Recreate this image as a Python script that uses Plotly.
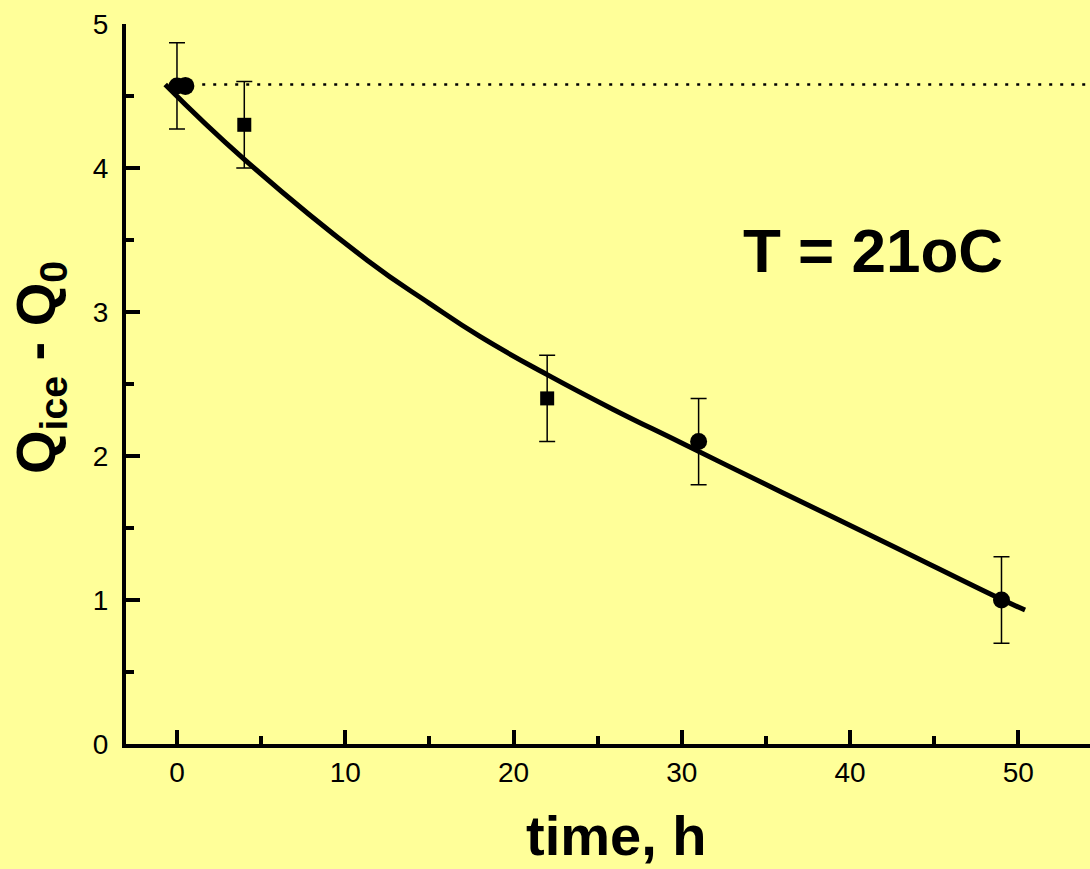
import plotly.graph_objects as go

# Measured data
circle_x = [0, 31, 49]
circle_y = [4.57, 2.1, 1.0]
circle_err = [0.3, 0.3, 0.3]
circle_extra_x = [0.5]
circle_extra_y = [4.57]
square_x = [4, 22]
square_y = [4.3, 2.4]
square_err = [0.3, 0.3]

# Fitted curve
fit_x = [-0.7, 4, 11.3, 15, 18, 22, 25.9, 29.9, 36, 42, 48.9, 50.4]
fit_y = [4.58, 4.06, 3.36, 3.06, 2.83, 2.565, 2.325, 2.095, 1.745, 1.405, 1.01, 0.93]

# Dotted reference level
ref_x = [1.5, 54.3]
ref_y = [4.58, 4.58]

x_ticks = [0, 10, 20, 30, 40, 50]
y_ticks = [0, 1, 2, 3, 4, 5]

BG = "#FFFF99"
FONT = "Liberation Sans, Arial, sans-serif"

fig = go.Figure()

fig.add_trace(go.Scatter(x=ref_x, y=ref_y, mode="lines",
                         line=dict(color="black", width=2.5, dash="3px,8px"),
                         showlegend=False, hoverinfo="skip"))

fig.add_trace(go.Scatter(x=fit_x, y=fit_y, mode="lines",
                         line=dict(color="black", width=5, shape="spline", smoothing=1.3),
                         showlegend=False))

fig.add_trace(go.Scatter(x=square_x, y=square_y, mode="markers",
                         marker=dict(symbol="square", size=14, color="black"),
                         error_y=dict(type="data", array=square_err, visible=True,
                                      color="black", thickness=1.5, width=8),
                         showlegend=False))

fig.add_trace(go.Scatter(x=circle_x, y=circle_y, mode="markers",
                         marker=dict(symbol="circle", size=17, color="black"),
                         error_y=dict(type="data", array=circle_err, visible=True,
                                      color="black", thickness=1.5, width=8),
                         showlegend=False))

fig.add_trace(go.Scatter(x=circle_extra_x, y=circle_extra_y, mode="markers",
                         marker=dict(symbol="circle", size=18, color="black"),
                         showlegend=False))

fig.add_annotation(text="<b>T = 21oC</b>", xref="paper", yref="paper",
                   x=0.775, y=0.686, xanchor="center", yanchor="middle",
                   showarrow=False, font=dict(family=FONT, size=62, color="black"))

# Axis titles as annotations for precise placement
fig.add_annotation(text="<b>time, h</b>", xref="paper", yref="paper",
                   x=(616 - 126) / 964, y=-(835 - 744) / 720, xanchor="center", yanchor="middle",
                   showarrow=False, font=dict(family=FONT, size=56, color="black"))
fig.add_annotation(text="<b>Q<sub>ice</sub> - Q<sub>0</sub></b>", xref="paper", yref="paper",
                   x=-(126 - 39) / 964, y=(744 - 368) / 720, xanchor="center", yanchor="middle",
                   textangle=-90,
                   showarrow=False, font=dict(family=FONT, size=56, color="black"))

fig.update_layout(
    width=1090, height=869,
    paper_bgcolor=BG, plot_bgcolor=BG,
    margin=dict(l=126, r=0, t=24, b=125),
    font=dict(family=FONT, color="black"),
    showlegend=False,
)

fig.update_xaxes(
    range=[-3.03, 54.26], tickvals=x_ticks, ticktext=[str(v) for v in x_ticks],
    showgrid=False, zeroline=False, showline=True, linecolor="black", linewidth=4,
    ticks="inside", ticklen=14, tickwidth=4, tickcolor="black",
    tickfont=dict(family=FONT, size=28, color="black"),
    minor=dict(dtick=5, ticks="inside", ticklen=8, tickwidth=4, tickcolor="black", showgrid=False),
)

fig.update_yaxes(
    range=[0, 5], tickvals=y_ticks, ticktext=[str(v) for v in y_ticks],
    showgrid=False, zeroline=False, showline=True, linecolor="black", linewidth=4,
    ticks="inside", ticklen=14, tickwidth=4, tickcolor="black",
    tickfont=dict(family=FONT, size=28, color="black"),
    ticklabelstandoff=8,
    minor=dict(dtick=0.5, ticks="inside", ticklen=8, tickwidth=4, tickcolor="black", showgrid=False),
)

fig.write_html("out.html")
